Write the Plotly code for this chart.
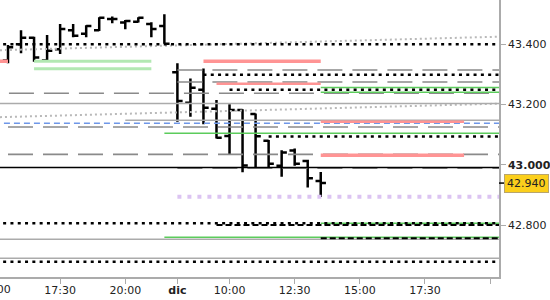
import plotly.graph_objects as go

# ------------------------------------------------------------------ data
SLOTS_PER_DAY = 28          # 30-minute bars, session 08:00-22:00
ORIGIN_SLOT = 14            # 15:00 of the first day is x = 0

def unit(day, hhmm):
    h, m = map(int, hhmm.split(":"))
    return day * SLOTS_PER_DAY + (h - 8) * 2 + m // 30 - ORIGIN_SLOT

bar_day = [0] * 13 + [1] * 12
bar_time = ["15:30", "16:00", "16:30", "17:00", "17:30", "18:00", "18:30",
            "19:00", "19:30", "20:00", "20:30", "21:00", "21:30",
            "08:00", "08:30", "09:00", "09:30", "10:00", "10:30", "11:00",
            "11:30", "12:00", "12:30", "13:00", "13:30"]
bar_open = [43346, 43400, 43422, 43346, 43384, 43447, 43435, 43447, 43484, 43472,
            43475, 43467, 43461, 43307, 43206, 43249, 43186, 43096, 43182, 43169,
            43080, 42997, 43048, 43013, 42947]
bar_high = [43398, 43447, 43425, 43431, 43467, 43467, 43463, 43490, 43492, 43481,
            43490, 43473, 43500, 43337, 43287, 43320, 43215, 43201, 43185, 43171,
            43083, 43049, 43055, 43017, 42977]
bar_low = [43337, 43370, 43342, 43342, 43368, 43423, 43423, 43444, 43470, 43450,
           43472, 43423, 43402, 43143, 43160, 43135, 43088, 43035, 42976, 42989,
           42992, 42961, 42997, 42925, 42894]
bar_close = [43390, 43422, 43356, 43379, 43451, 43428, 43461, 43488, 43484, 43477,
             43488, 43451, 43402, 43212, 43256, 43190, 43090, 43182, 42998, 43095,
             43004, 43041, 43004, 42956, 42940]
last_price = 42940

tick_day = [0, 0, 0, 1, 1, 1, 1, 1, 1]
tick_time = ["15:00", "17:30", "20:00", "08:00", "10:00", "12:30", "15:00", "17:30", "20:00"]
tick_text = ["15:00", "17:30", "20:00", "dic", "10:00", "12:30", "15:00", "17:30", ""]
y_ticks = [43400, 43200, 43000, 42800]

# horizontal levels: price, start (day, time) or None = from left edge, end likewise
black_dotted = [43400, 43299, 43249, 43094, 42807, 42679]
black_dotted_start = [None, (1, "09:00"), (1, "10:00"), (1, "11:30"), None, None]
gray_dashed = [43238, 43315, 43275, 43126, 43035, 42989]
gray_dashed_start = [None, (1, "08:00"), (1, "08:00"), (0, "15:30"), (0, "15:30"), (1, "08:00")]
gray_solid = [43204, 43148, 42754, 42691]
gray_solid_start = [None, (0, "20:00"), None, None]
black_solid = [42992]
blue_dashed = [43138]
green_thin = [43257, 43241, 43105, 42807, 42760]
green_thin_start = [(1, "13:30"), (1, "13:30"), (0, "21:30"), (1, "13:30"), (0, "21:30")]
green_wide = [43344, 43319]
green_wide_start = [(0, "16:30"), (0, "16:30")]
green_wide_end = [(0, "21:00"), (0, "21:00")]
pink_wide = [43344, 43032, 43344]
pink_wide_start = [(1, "09:00"), (1, "13:30"), None]
pink_wide_end = [(1, "13:30"), (1, "19:00"), (0, "15:30")]
pink_thin = [43269, 43143]
pink_thin_start = [(1, "09:30"), (1, "13:30")]
pink_thin_end = [(1, "13:30"), (1, "19:00")]
black_dashed = [42801, 42757]
black_dashed_start = [(1, "09:30"), (1, "13:30")]
purple_dotted = [42895]
purple_dotted_start = [(1, "08:00")]
# channel (two parallel trend lines), values at x = 0 and x = 39
trend_x = [(0, "15:00"), (1, "21:30")]
trend_upper = [43380, 43428]
trend_lower = [43158, 43206]

# ------------------------------------------------------------------ figure
X_MIN, X_MAX = 0.386, 38.68
Y_MIN, Y_MAX = 42628.6, 43546.9

def pos(p, default):
    return default if p is None else unit(*p)

fig = go.Figure()

def add_levels(levels, starts=None, ends=None, color="black", width=1.5, dash="solid"):
    for i, lv in enumerate(levels):
        s = pos(starts[i] if starts else None, X_MIN - 2)
        e = pos(ends[i] if ends else None, X_MAX + 2)
        fig.add_trace(go.Scatter(x=[s, e], y=[lv, lv], mode="lines",
                                 line=dict(color=color, width=width, dash=dash),
                                 hoverinfo="skip", showlegend=False))

tx = [unit(*p) for p in trend_x]
for ys in (trend_upper, trend_lower):
    fig.add_trace(go.Scatter(x=tx, y=ys, mode="lines",
                             line=dict(color="#b9b9b9", width=2, dash="2px,3px"),
                             hoverinfo="skip", showlegend=False))

add_levels(gray_solid, gray_solid_start, color="#ababab", width=1.5)
add_levels(gray_dashed, gray_dashed_start, color="#8a8a8a", width=1.6, dash="25px,10px")
add_levels(blue_dashed, color="#6f97e8", width=1.5, dash="6px,4px")
add_levels(green_wide, green_wide_start, green_wide_end, color="#b2e8b2", width=3)
add_levels(green_thin, green_thin_start, color="#5ccc5c", width=1.5)
add_levels(pink_wide, pink_wide_start, pink_wide_end, color="#ff9494", width=3.5)
add_levels(pink_thin, pink_thin_start, pink_thin_end, color="#ff9494", width=2.5)
add_levels(black_solid, color="black", width=1.5)
add_levels(black_dashed, black_dashed_start, color="black", width=2, dash="6px,3px")
add_levels(black_dotted, black_dotted_start, color="black", width=2.5, dash="3px,4.3px")
add_levels(purple_dotted, purple_dotted_start, color="#dcc4f2", width=4, dash="4px,6px")

bar_x = [unit(d, t) for d, t in zip(bar_day, bar_time)]
fig.add_trace(go.Ohlc(x=bar_x, open=bar_open, high=bar_high, low=bar_low, close=bar_close,
                      increasing=dict(line=dict(color="black", width=2.5)),
                      decreasing=dict(line=dict(color="black", width=2.5)),
                      tickwidth=0.4, hoverinfo="skip", showlegend=False))

tick_vals = [unit(d, t) for d, t in zip(tick_day, tick_time)]
tick_lbl = [("<b>%s</b>" % t) if t == "dic" else t for t in tick_text]

def it_fmt(v):
    return f"{v:,.0f}".replace(",", ".")

y_lbl = [("<b>%s</b>" % it_fmt(v)) if v % 1000 == 0 else it_fmt(v) for v in y_ticks]

font = dict(family="DejaVu Sans", size=11, color="#222222")
fig.update_layout(
    width=550, height=300,
    margin=dict(l=0, r=51, t=0, b=23),
    paper_bgcolor="white", plot_bgcolor="white",
    font=font, showlegend=False,
    xaxis=dict(range=[X_MIN, X_MAX], tickmode="array",
               tickvals=[v for v in tick_vals if X_MIN <= v <= X_MAX],
               ticktext=[l for v, l in zip(tick_vals, tick_lbl) if X_MIN <= v <= X_MAX],
               showgrid=False, zeroline=False, showline=True, linecolor="#ababab",
               linewidth=1.5, ticks="outside", ticklen=5, tickcolor="#ababab",
               ticklabelstandoff=-3,
               rangeslider=dict(visible=False), tickfont=font),
    yaxis=dict(range=[Y_MIN, Y_MAX], side="right", tickmode="array",
               tickvals=y_ticks, ticktext=y_lbl,
               showgrid=False, zeroline=False, showline=True, linecolor="#ababab",
               linewidth=1.5, ticks="outside", ticklen=5, tickcolor="#ababab",
               tickfont=font),
)

# first x label, clipped by the left edge of the picture (as in the original)
first_v = tick_vals[0]
fig.add_annotation(x=(first_v - X_MIN) / (X_MAX - X_MIN), xref="paper", y=0, yref="paper",
                   xanchor="center", yanchor="top", yshift=-4, text=tick_lbl[0],
                   showarrow=False, font=font)

# current price marker
fig.add_shape(type="line", xref="paper", yref="y", x0=1, x1=1.011,
              y0=last_price, y1=last_price, line=dict(color="black", width=1.5))
fig.add_annotation(x=1, xref="paper", y=last_price, yref="y", xanchor="left", xshift=5,
                   text=it_fmt(last_price), showarrow=False, font=font,
                   bgcolor="#fbcf1c", bordercolor="#b8a56c", borderwidth=1, borderpad=2)

fig.write_html("out.html")
